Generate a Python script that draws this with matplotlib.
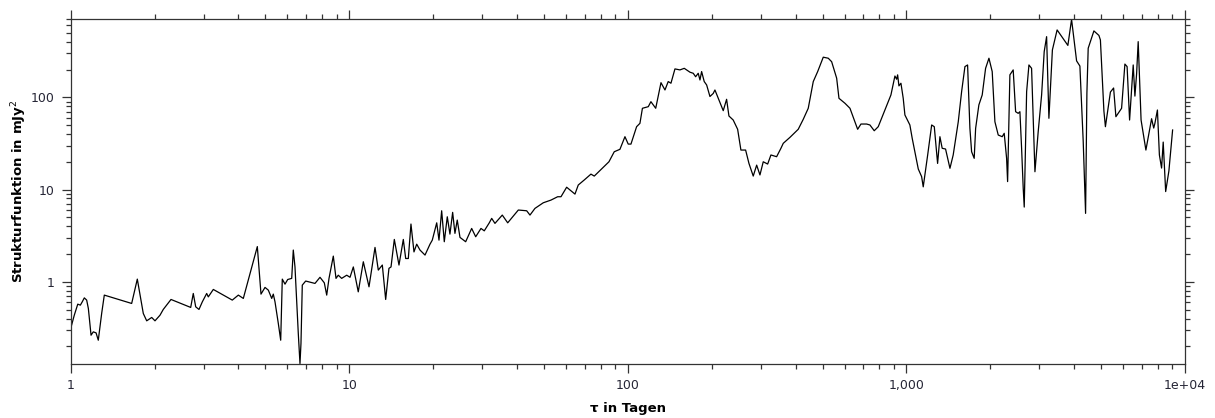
import numpy as np
import matplotlib
matplotlib.use('Agg')
import matplotlib.pyplot as plt

# Strukturfunktion: Zeitlag tau (Tage) und Wert (mJy^2)
tau = [1.00, 1.030, 1.060, 1.083, 1.100, 1.119, 1.141, 1.157, 1.183, 1.205,
       1.233, 1.256, 1.292, 1.320, 1.655, 1.734, 1.774, 1.822, 1.874, 1.953,
       2.007, 2.092, 2.149, 2.291, 2.696, 2.754, 2.810, 2.887, 2.968, 3.077,
       3.118, 3.250, 3.802, 3.997, 4.165, 4.676, 4.82, 4.983, 5.121, 5.267,
       5.336, 5.412, 5.562, 5.673, 5.748, 5.878, 6.011, 6.213, 6.295, 6.384,
       6.561, 6.653, 6.708, 6.781, 6.974, 7.532, 7.850, 8.135, 8.298, 8.457,
       8.763, 8.961, 9.13, 9.39, 9.79, 10.06, 10.34, 10.77, 11.23, 11.77,
       12.37, 12.71, 13.14, 13.51, 13.88, 14.12, 14.51, 15.08, 15.63, 15.94,
       16.29, 16.65, 17.07, 17.46, 17.94, 18.70, 19.49, 19.86, 20.60, 20.99,
       21.46, 21.93, 22.48, 22.98, 23.50, 23.95, 24.41, 24.97, 26.17, 27.50,
       28.43, 29.70, 30.52, 31.81, 32.45, 33.34, 35.42, 37.04, 40.44, 43.33,
       44.53, 46.40, 49.70, 52.97, 55.98, 57.54, 60.30, 64.59, 66.37, 69.74,
       73.71, 75.76, 80.93, 85.53, 89.37, 93.67, 97.63, 100.3, 102.6, 107.5,
       110.5, 112.8, 118.4, 121.0, 125.9, 131.5, 135.9, 139.6, 142.8, 147.6,
       153.8, 159.4, 167.1, 171.7, 175.1, 178.9, 181.5, 184.0, 188.0, 191.8,
       197.1, 202.5, 205.4, 212.3, 220.0, 226.2, 230.6, 238.9, 247.8, 254.6,
       264.7, 272.1, 281.9, 290.0, 298.0, 306.2, 317.6, 326.3, 342.0, 354.4,
       361.3, 381.9, 408.9, 426.2, 444.2, 463.0, 480.2, 502.9, 524.1, 539.0,
       561.8, 572.6, 601.7, 627.1, 649.7, 668.2, 686.7, 719.7, 739.6, 766.4,
       792.2, 832.4, 879.8, 909.3, 922.2, 929.9, 940.0, 955.7, 973.9, 987.6,
       1029, 1049, 1103, 1134, 1149, 1192, 1232, 1259, 1294, 1319,
       1344, 1382, 1433, 1472, 1535, 1578, 1622, 1658, 1690, 1714,
       1751, 1772, 1820, 1871, 1924, 1978, 2032, 2078, 2136, 2207,
       2244, 2289, 2308, 2352, 2417, 2466, 2519, 2555, 2591, 2626,
       2648, 2701, 2753, 2814, 2893, 2972, 3057, 3123, 3186, 3247,
       3342, 3475, 3798, 3916, 4082, 4195, 4311, 4397, 4445, 4493,
       4710, 4909, 4970, 5116, 5180, 5399, 5543, 5649, 5921, 6085,
       6197, 6326, 6518, 6610, 6703, 6792, 6956, 7239, 7588, 7722,
       7798, 7962, 8093, 8241, 8352, 8524, 8754, 9027]

sf = [0.313, 0.435, 0.573, 0.559, 0.607, 0.670, 0.634, 0.514, 0.264, 0.287,
      0.280, 0.233, 0.458, 0.718, 0.583, 1.07, 0.718, 0.454, 0.378, 0.411,
      0.378, 0.435, 0.502, 0.644, 0.528, 0.748, 0.536, 0.502, 0.607, 0.748,
      0.687, 0.827, 0.634, 0.718, 0.661, 2.41, 0.736, 0.870, 0.813, 0.661,
      0.736, 0.607, 0.354, 0.233, 1.07, 0.944, 1.06, 1.09, 2.21, 1.45,
      0.275, 0.130, 0.215, 0.921, 1.02, 0.961, 1.12, 0.975, 0.718, 1.09,
      1.90, 1.09, 1.18, 1.09, 1.18, 1.12, 1.45, 0.779, 1.65, 0.883,
      2.36, 1.34, 1.52, 0.644, 1.40, 1.45, 2.88, 1.52, 2.88, 1.79,
      1.79, 4.23, 2.11, 2.56, 2.21, 1.95, 2.56, 2.83, 4.36, 2.83,
      5.89, 2.72, 5.07, 3.29, 5.66, 3.35, 4.67, 3.03, 2.72, 3.79,
      3.08, 3.79, 3.57, 4.36, 4.87, 4.30, 5.29, 4.36, 6.00, 5.89,
      5.29, 6.25, 7.19, 7.69, 8.36, 8.36, 10.6, 8.93, 11.2, 12.7,
      14.7, 14.0, 17.0, 20.0, 25.7, 27.3, 37.4, 31.1, 31.1, 48.0,
      52.2, 76.0, 79.1, 89.6, 76.0, 144, 120, 148, 142, 203,
      198, 206, 187, 182, 167, 182, 154, 190, 148, 136,
      102, 110, 120, 93.5, 71.6, 95.1, 62.7, 56.7, 45.0, 26.8,
      26.8, 19.2, 14.0, 18.4, 14.4, 20.0, 18.9, 23.7, 22.7, 28.0,
      31.7, 36.8, 45.0, 57.7, 76.0, 148, 190, 272, 265, 243,
      161, 97.5, 86.1, 76.0, 56.7, 45.0, 51.3, 51.3, 50.1, 43.4,
      48.0, 69.8, 106, 170, 157, 175, 133, 142, 97.5, 64.3,
      50.1, 35.9, 16.7, 13.8, 10.7, 23.7, 50.1, 48.0, 19.2, 37.4,
      28.0, 27.5, 17.0, 23.7, 54.3, 115, 215, 224, 46.1, 25.7,
      21.8, 46.1, 82.6, 106, 206, 265, 190, 54.3, 39.0, 37.4,
      40.7, 21.8, 12.2, 175, 198, 69.8, 67.0, 69.8, 28.0, 10.3,
      6.46, 115, 224, 206, 15.6, 42.4, 106, 312, 454, 59.2,
      326, 537, 365, 698, 248, 218, 33.6, 5.52, 111, 340,
      524, 468, 418, 71.0, 48.0, 114, 126, 61.6, 76.0, 229,
      215, 56.7, 224, 103, 179, 401, 56.7, 26.8, 58.6, 46.4,
      52.2, 72.8, 23.7, 17.1, 32.7, 9.51, 15.9, 44.2]

x_ticks = [1, 10, 100, 1000, 10000]
x_tick_labels = ['1', '10', '100', '1,000', '1e+04']
y_ticks = [1, 10, 100]
y_tick_labels = ['1', '10', '100']

tick_color = '#262636'

fig = plt.figure(figsize=(12.15, 4.18), dpi=100)
ax = fig.add_axes([0.0582, 0.1292, 0.9171, 0.8253])

ax.plot(tau, sf, color='black', lw=0.9)

ax.set_xscale('log')
ax.set_yscale('log')
ax.set_xlim(1, 10000)
ax.set_ylim(min(sf) * 0.99, max(sf) * 1.01)

ax.set_xticks(x_ticks)
ax.set_xticklabels(x_tick_labels)
ax.set_yticks(y_ticks)
ax.set_yticklabels(y_tick_labels)

ax.tick_params(which='both', direction='out', top=True, right=True,
               color='#333333', width=0.9)
ax.tick_params(which='major', length=6.5)
ax.tick_params(which='minor', length=3.6)
ax.tick_params(axis='x', which='major', labelsize=9, labelcolor=tick_color, pad=4)
ax.tick_params(axis='y', which='major', labelsize=9, labelcolor=tick_color, pad=5)

for s in ax.spines.values():
    s.set_color('#333333')
    s.set_linewidth(0.9)

ax.set_xlabel('τ in Tagen', fontsize=9.5, fontweight='bold', labelpad=7.5)
ax.set_ylabel('Strukturfunktion in mJy$^2$', fontsize=9.5, fontweight='bold', labelpad=1)

fig.savefig('out.png', dpi=100)
plt.close(fig)
